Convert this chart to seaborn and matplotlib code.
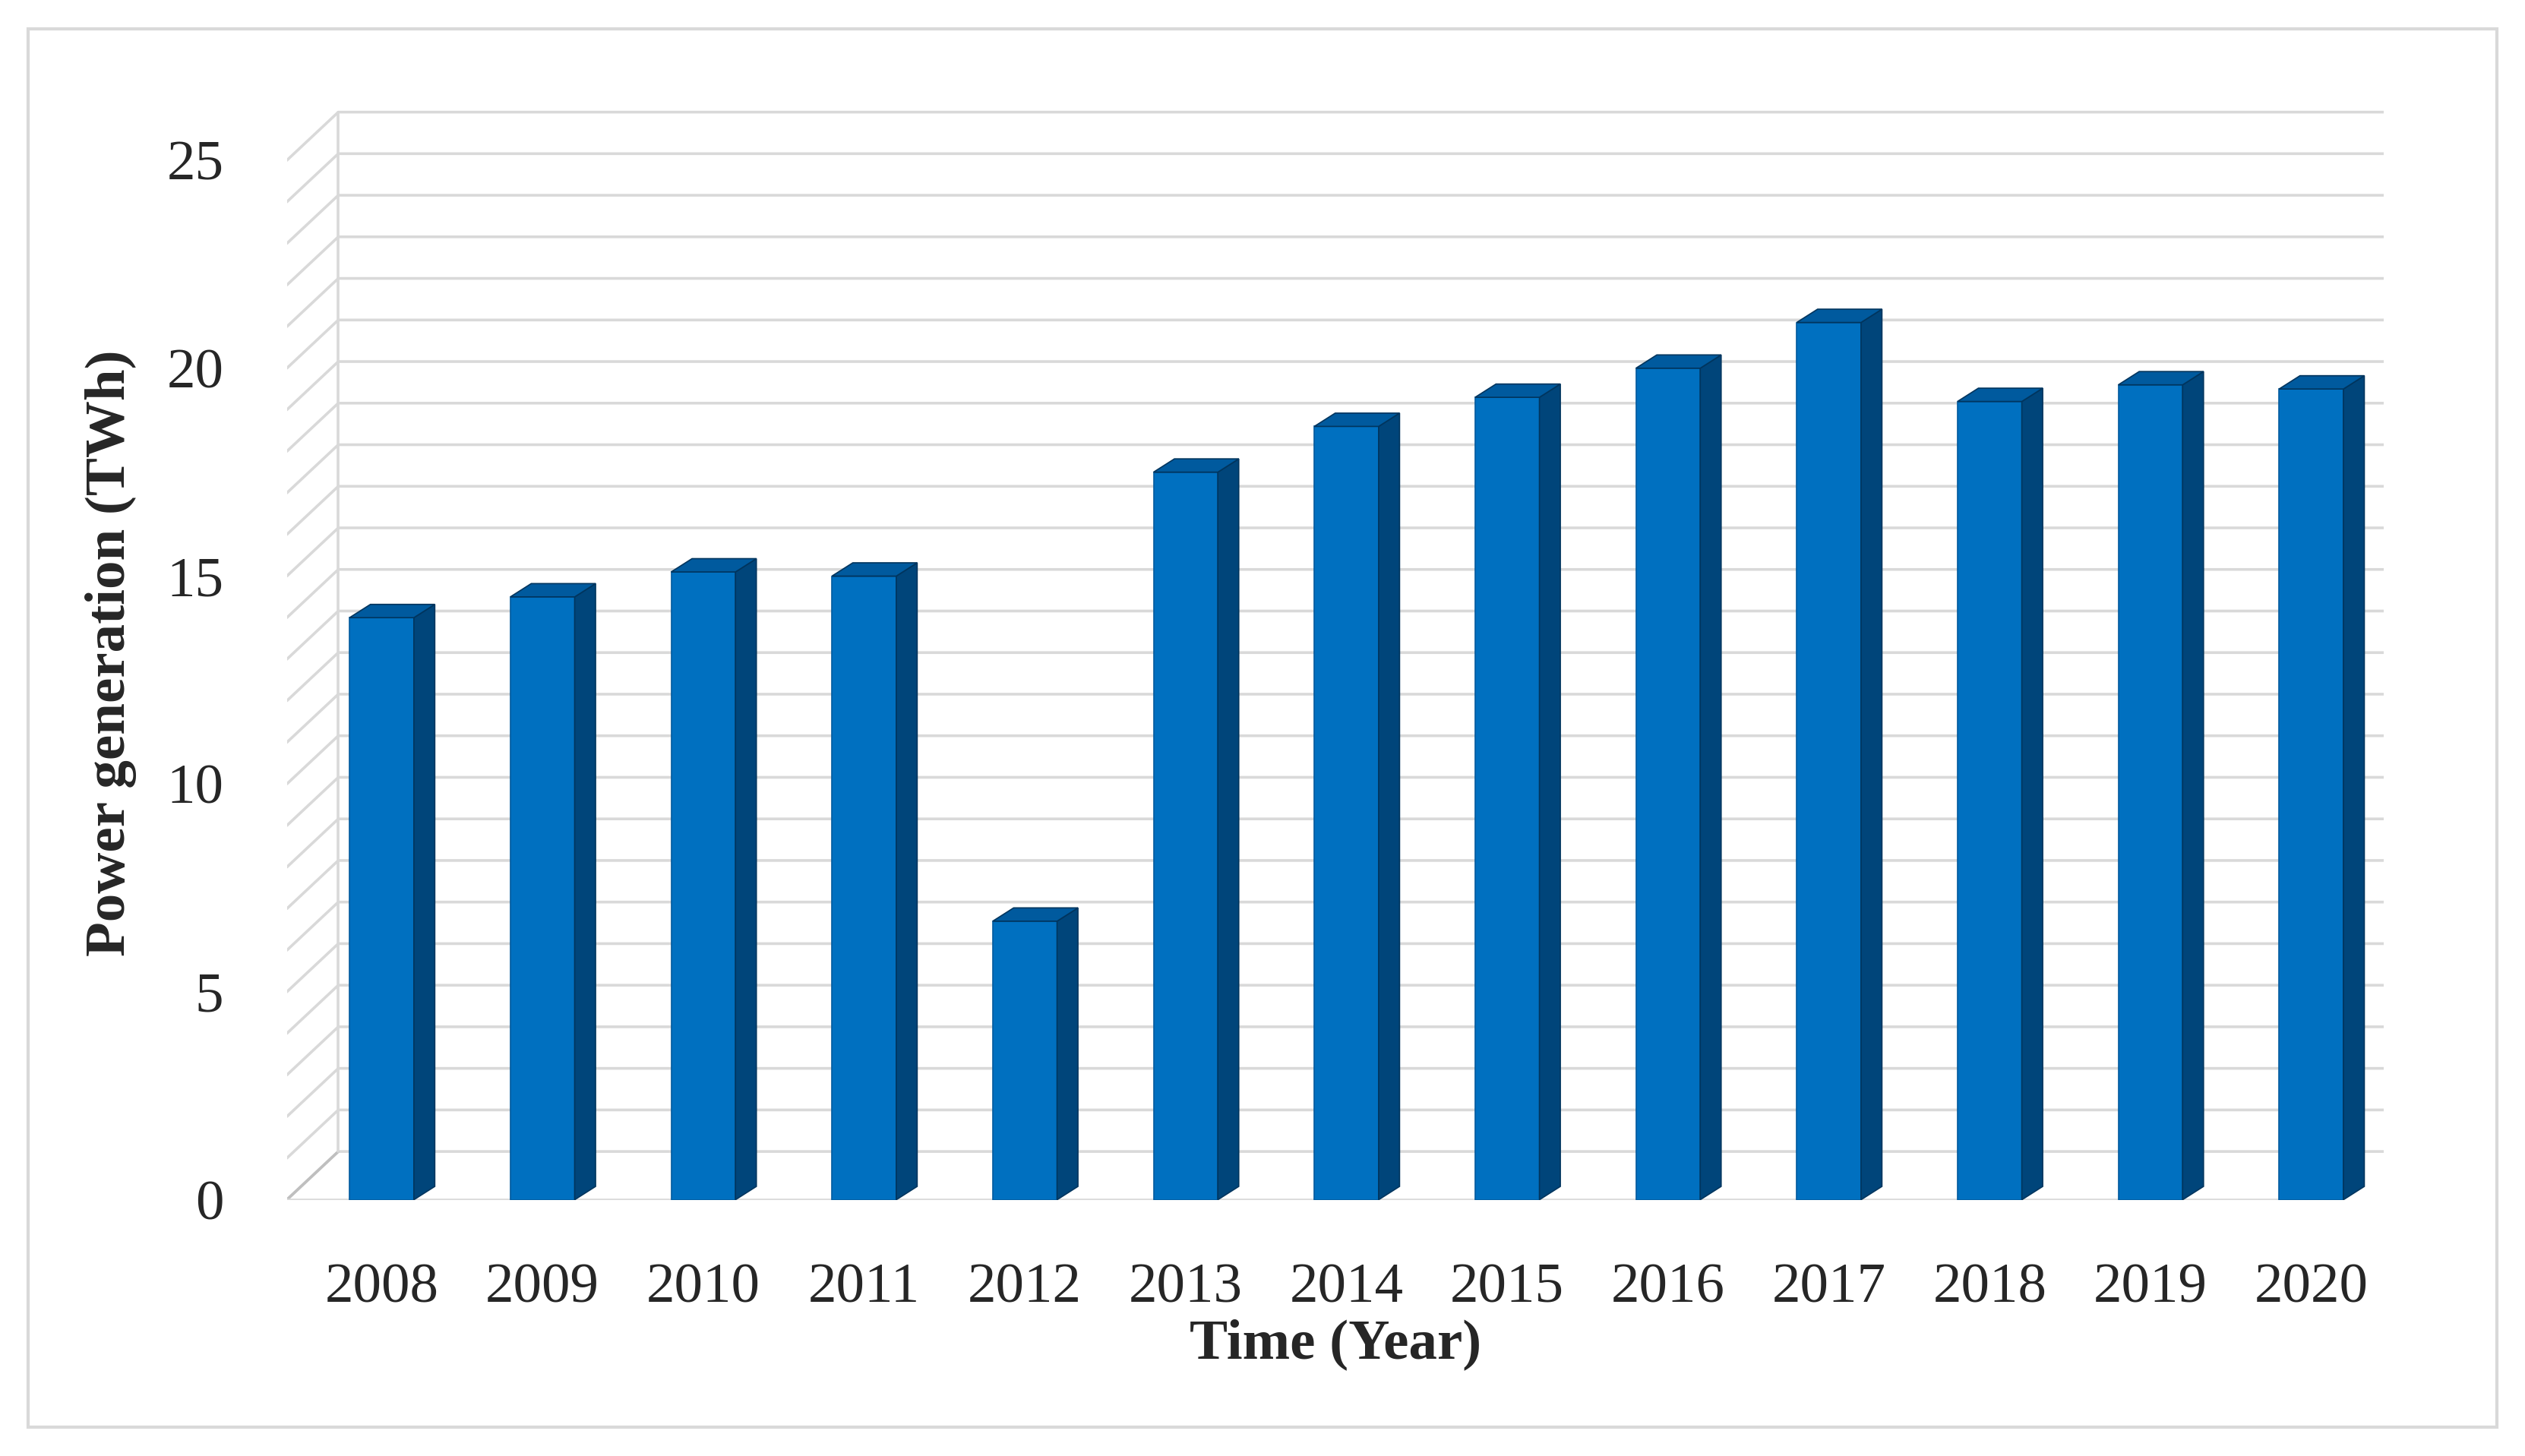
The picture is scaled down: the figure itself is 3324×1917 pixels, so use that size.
import matplotlib
matplotlib.use("Agg")
import matplotlib.pyplot as plt
import seaborn as sns
import pandas as pd
from matplotlib.patches import Polygon, Rectangle

years = ["2008","2009","2010","2011","2012","2013","2014","2015","2016","2017","2018","2019","2020"]
values = [14.0, 14.5, 15.1, 15.0, 6.7, 17.5, 18.6, 19.3, 20.0, 21.1, 19.2, 19.6, 19.5]

sns.set_theme(style="white")
plt.rcParams['font.family'] = ['Liberation Serif', 'DejaVu Serif']

fig = plt.figure(figsize=(16.62, 9.585), dpi=200)
fig.patches.append(Rectangle((0.011, 0.02), 0.978, 0.96, transform=fig.transFigure,
                             fill=False, edgecolor="#D9D9D9", linewidth=1.5))
ax = fig.add_axes([0.1136, 0.176, 0.8304, 0.751])

df = pd.DataFrame({"Year": years, "Value": values})
sns.barplot(data=df, x="Year", y="Value", color="#0070C0", saturation=1,
            width=0.4, ax=ax, zorder=3, edgecolor="#005A9E", linewidth=0.6)

xl, xr = -0.59, 12.45
dx, dy = 0.32, 1.16
# back grid lines with perspective
for g in range(0, 26):
    ax.plot([xl, xl + dx, xr], [g, g + dy, g + dy], color="#D9D9D9", lw=1.3, zorder=1)
ax.plot([xl, xl + dx], [0, dy], color="#BFBFBF", lw=1.3, zorder=1)
ax.plot([xl, xr - dx], [0, 0], color="#D9D9D9", lw=1.3, zorder=1)
ax.plot([xl + dx, xl + dx], [dy, 25 + dy], color="#D9D9D9", lw=1.3, zorder=1)

# 3D sides and tops
bw, bdx, bdy = 0.4, 0.13, 0.32
for i, v in enumerate(values):
    x0, x1 = i - bw / 2, i + bw / 2
    ax.add_patch(Polygon([(x1, 0), (x1 + bdx, bdy), (x1 + bdx, v + bdy), (x1, v)],
                         closed=True, facecolor="#00457A", edgecolor="#00355E", lw=0.6, zorder=4))
    ax.add_patch(Polygon([(x0, v), (x0 + bdx, v + bdy), (x1 + bdx, v + bdy), (x1, v)],
                         closed=True, facecolor="#005A9E", edgecolor="#00355E", lw=0.6, zorder=4))

ax.set_xlim(xl, xr)
ax.set_ylim(0, 26.3)
ax.set_yticks([0, 5, 10, 15, 20, 25])
ax.tick_params(axis="y", labelsize=27, pad=30, length=0)
ax.tick_params(axis="x", labelsize=27, pad=30, length=0)
for s in ax.spines.values():
    s.set_visible(False)
ax.set_xlabel("Time (Year)", fontsize=27, fontweight="bold", labelpad=2)
ax.set_ylabel("Power generation (TWh)", fontsize=27, fontweight="bold", labelpad=14)

fig.savefig("out.png", dpi=200)
